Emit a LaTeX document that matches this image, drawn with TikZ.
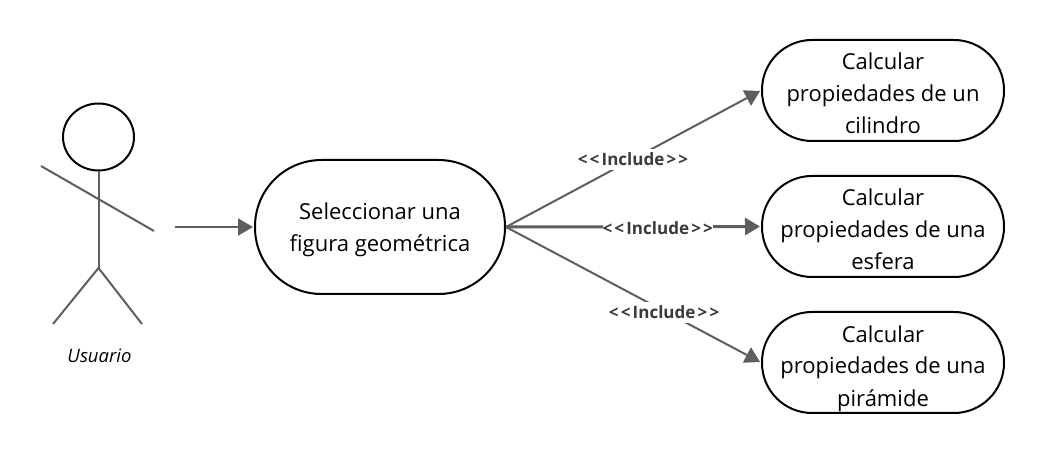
\documentclass[tikz,border=0pt]{standalone}
\usepackage{fontspec}
\setmainfont{Open Sans}
\usetikzlibrary{arrows.meta,shapes.geometric}
\definecolor{linegray}{HTML}{5E5E5E}
\definecolor{labelgray}{HTML}{3A3A3A}
\newcommand\lowerline[2][-6.5pt]{\raisebox{#1}[16pt][6pt]{#2}}
\newcommand\inctext{<\kern2.2pt<\kern2.2pt Include\kern2.2pt>\kern2.2pt>}
\tikzset{
  usecase/.style={rectangle,draw=black,line width=2pt,inner sep=0pt,align=center,text=black,font=\fontsize{22}{32}\selectfont},
  rightcase/.style={usecase,rounded corners=50pt,minimum width=242pt,minimum height=101pt},
  limb/.style={draw=linegray,line width=2pt},
  flow/.style={draw=linegray,line width=2pt,-{Triangle[length=15pt,width=17pt]},shorten >=1pt},
  inclabel/.style={fill=white,inner xsep=0pt,inner ysep=0pt,minimum height=21pt,yshift=-1pt,text=labelgray,font=\fontsize{17}{16}\selectfont\bfseries}
}
\begin{document}
\begin{tikzpicture}[x=1pt,y=-1pt]
\useasboundingbox (0,0) rectangle (1045,454);
% actor
\node (head) [ellipse,draw=black,line width=2pt,minimum width=71pt,minimum height=67pt,inner sep=0pt] at (98.5,137) {};
\coordinate (hip) at (98.5,268);
\coordinate (armL) at (41,166);
\coordinate (armR) at (154,231);
\coordinate (legL) at (53,324);
\coordinate (legR) at (142,324);
\coordinate (actorOut) at (175,227);
\draw[limb] (head.south) -- (hip);
\draw[limb] (armL) -- (armR);
\draw[limb] (legL) -- (hip) -- (legR);
\node (actorName) at (99.5,356) {\fontsize{18.5}{20}\selectfont\itshape Usuario};
% use cases
\node (main) [usecase,rounded corners=66.5pt,minimum width=250pt,minimum height=134pt] at (380,227) {\lowerline[-4pt]{Seleccionar una}\\\lowerline[-4pt]{figura geométrica}};
\node (c1) [rightcase] at (883,90.5) {\lowerline{Calcular}\\\lowerline{propiedades de un}\\\lowerline{cilindro}};
\node (c2) [rightcase] at (883,226.5) {\lowerline{Calcular}\\\lowerline{propiedades de una}\\\lowerline{esfera}};
\node (c3) [rightcase] at (883,362.5) {\lowerline{Calcular}\\\lowerline{propiedades de una}\\\lowerline{pirámide}};
% connectors
\draw[flow] (actorOut) -- (main.west);
\draw[flow] (main.east) -- node[inclabel,pos=0.498,yshift=1pt] (l1) {\inctext} (c1.west);
\draw[flow,line width=3pt] (main.east) -- node[inclabel,pos=0.595] (l2) {\inctext} (c2.west);
\draw[flow] (main.east) -- node[inclabel,pos=0.62] (l3) {\inctext} (c3.west);
\end{tikzpicture}
\end{document}
